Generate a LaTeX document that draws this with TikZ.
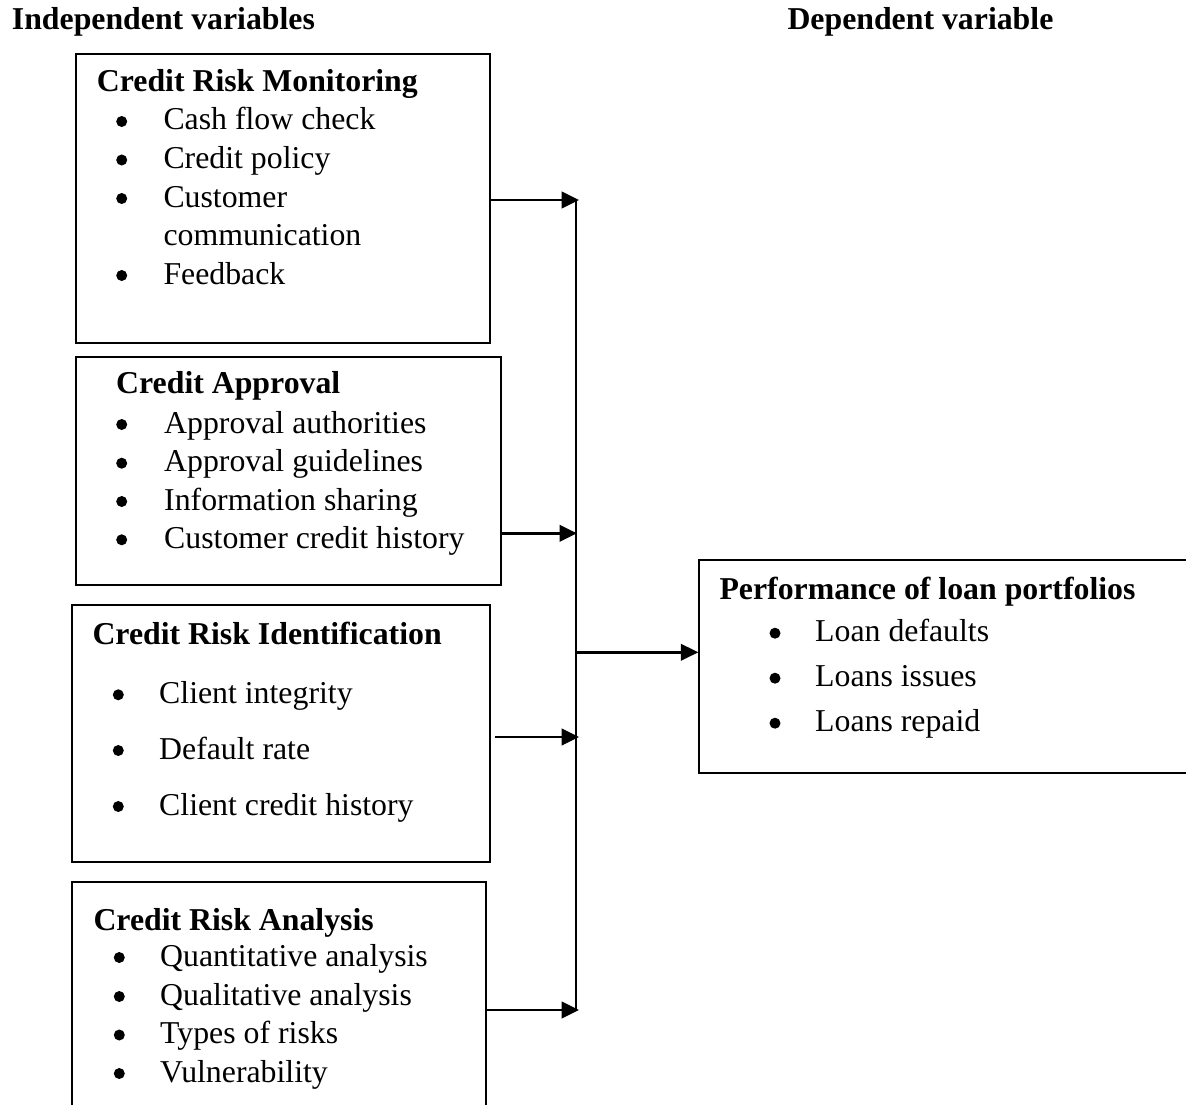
\documentclass[tikz,border=0pt]{standalone}
\usepackage{fontspec}
\setmainfont{Liberation Serif}
\usetikzlibrary{arrows.meta}
\begin{document}
\begin{tikzpicture}[x=1pt,y=1pt,
  every node/.style={font=\fontsize{31.8}{38.5}\selectfont},
  box/.style={draw, line width=2pt, inner sep=0pt, anchor=north west},
  txt/.style={inner sep=0pt, anchor=base west},
  head/.style={txt, font=\fontsize{31.8}{38.5}\selectfont\bfseries},
  dot/.style={circle, fill=black, inner sep=0pt, minimum size=11pt},
  arr/.style={line width=2.7pt, -{Triangle[length=17.5pt 0 0,width=16.5pt 0 0]}},
  bus/.style={line width=2.2pt}]
\useasboundingbox (0,0) rectangle (1186,-1105);
\clip (0,0) rectangle (1186,-1105);
\fill[white] (0,0) rectangle (1186,-1105);

% headers
\node[head] (ind) at (11.7,-30) {Independent variables};
\node[head] (dep) at (787.3,-30) {Dependent variable};

% boxes
\node[box, minimum width=414.3pt, minimum height=289pt] (b1) at (75,-52.7) {};
\node[box, minimum width=425pt, minimum height=228pt] (b2) at (75,-356) {};
\node[box, minimum width=418.3pt, minimum height=256.7pt] (b3) at (71,-604.3) {};
\node[box, minimum width=414pt, minimum height=300pt] (b4) at (71,-880.7) {};
\node[box, minimum width=520pt, minimum height=213.3pt] (rb) at (698.3,-559) {};

% box 1
\node[head] (h1) at (96.7,-91.7) {Credit Risk Monitoring};
\node[dot] (b1u1) at (121.7,-121.5) {};
\node[txt] (t1a) at (163.3,-130) {Cash flow check};
\node[dot] (b1u2) at (121.7,-160) {};
\node[txt] (t1b) at (163.3,-168.5) {Credit policy};
\node[dot] (b1u3) at (121.7,-198.5) {};
\node[txt] (t1c) at (163.3,-207) {Customer};
\node[txt] (t1d) at (163.3,-245.5) {communication};
\node[dot] (b1u4) at (121.7,-275.5) {};
\node[txt] (t1e) at (163.3,-284) {Feedback};

% box 2
\node[head] (h2) at (116,-393.3) {Credit Approval};
\node[dot] (b2u1) at (121.7,-424.5) {};
\node[txt] (t2a) at (164,-433) {Approval authorities};
\node[dot] (b2u2) at (121.7,-463.2) {};
\node[txt] (t2b) at (164,-471.7) {Approval guidelines};
\node[dot] (b2u3) at (121.7,-501.5) {};
\node[txt] (t2c) at (164,-510) {Information sharing};
\node[dot] (b2u4) at (121.7,-539.8) {};
\node[txt] (t2d) at (164,-548.3) {Customer credit history};

% box 3
\node[head] (h3) at (92.3,-644) {Credit Risk Identification};
\node[dot] (b3u1) at (118.3,-694.8) {};
\node[txt] (t3a) at (159,-703.3) {Client integrity};
\node[dot] (b3u2) at (118.3,-750.5) {};
\node[txt] (t3b) at (159,-759) {Default rate};
\node[dot] (b3u3) at (118.3,-806.5) {};
\node[txt] (t3c) at (159,-815) {Client credit history};

% box 4
\node[head] (h4) at (93.3,-930) {Credit Risk Analysis};
\node[dot] (b4u1) at (119.3,-957.5) {};
\node[txt] (t4a) at (160,-966) {Quantitative analysis};
\node[dot] (b4u2) at (119.3,-996.5) {};
\node[txt] (t4b) at (160,-1005) {Qualitative analysis};
\node[dot] (b4u3) at (119.3,-1035) {};
\node[txt] (t4c) at (160,-1043.5) {Types of risks};
\node[dot] (b4u4) at (119.3,-1073.5) {};
\node[txt] (t4d) at (160,-1082) {Vulnerability};

% right box
\node[head] (h5) at (719.3,-599.3) {Performance of loan portfolios};
\node[dot] (b5u1) at (775,-633.2) {};
\node[txt] (t5a) at (815,-641.7) {Loan defaults};
\node[dot] (b5u2) at (775,-678.2) {};
\node[txt] (t5b) at (815,-686.7) {Loans issues};
\node[dot] (b5u3) at (775,-723.2) {};
\node[txt] (t5c) at (815,-731.7) {Loans repaid};

% connectors
\coordinate (j1) at (579,-200);
\coordinate (j2) at (577,-533.3);
\coordinate (s3) at (495,-737);
\coordinate (j3) at (579,-737);
\coordinate (j4) at (579,-1010);
\coordinate (bustop) at (576,-200);
\coordinate (busbot) at (576,-1010);
\coordinate (jm) at (576,-652.3);

\draw[bus] (bustop) -- (busbot);
\draw[arr] (b1.east |- j1) -- (j1);
\draw[arr] (b2.east |- j2) -- (j2);
\draw[arr] (s3) -- (j3);
\draw[arr] (b4.east |- j4) -- (j4);
\draw[arr] (jm) -- (rb.west |- jm);
\end{tikzpicture}
\end{document}
